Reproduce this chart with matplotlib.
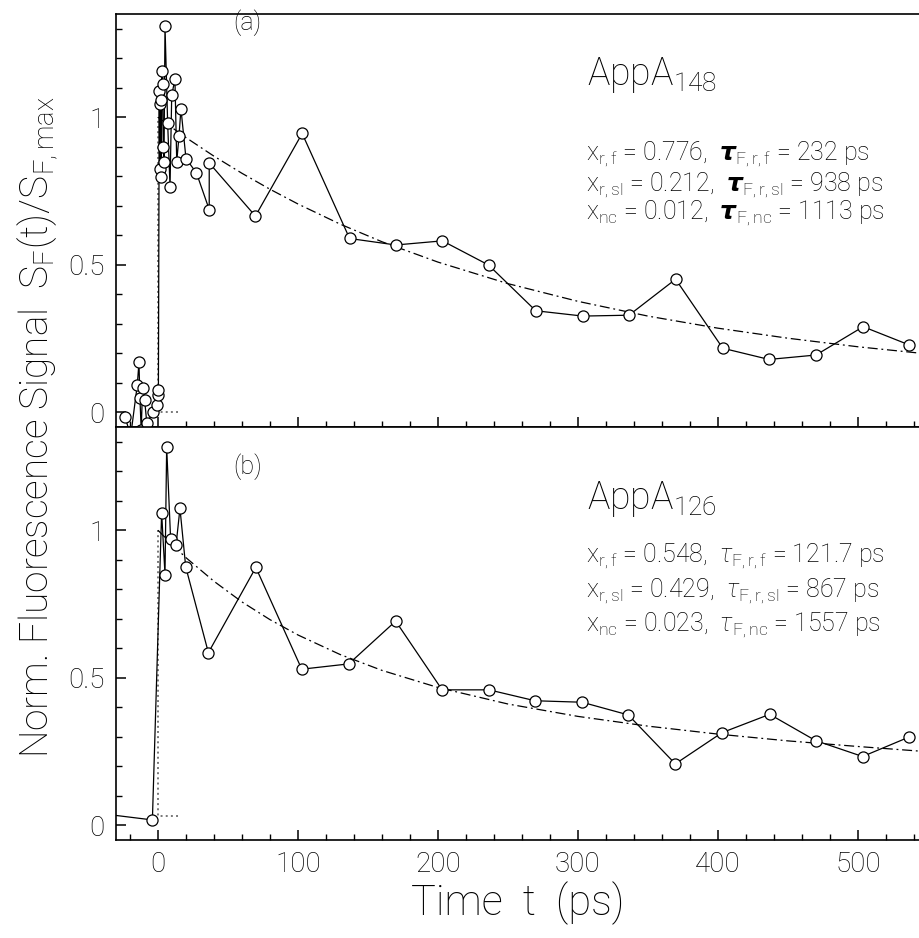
import matplotlib
matplotlib.use("Agg")
import matplotlib.pyplot as plt
import matplotlib.font_manager as fm
from matplotlib.ticker import MultipleLocator, FixedLocator

# ---------------- data ----------------
top_t = [-23.6, -19.5, -14.8, -13.6, -12.9, -12.0, -11.0, -9.5, -8.0, -3.4, -0.5, 0.2, 0.3,
         0.9, 1.2, 1.7, 2.1, 2.4, 2.6, 3.3, 3.8, 4.3, 5.0, 6.9, 8.6, 9.8, 12.1, 13.4, 15.0,
         16.4, 20.0, 27.5, 36.6, 36.6, 69.6, 103.0, 136.9, 169.9, 203.2, 236.2, 269.9,
         303.5, 336.5, 369.8, 403.5, 436.5, 470.1, 503.8, 536.8]
top_v = [-0.015, -0.08, 0.092, 0.169, 0.047, -0.06, 0.083, 0.040, -0.037, 0.002, 0.025, 0.059, 0.075,
         1.089, 0.824, 1.044, 1.058, 0.798, 1.157, 1.114, 0.899, 0.849, 1.311, 0.981, 0.764, 1.074,
         1.129, 0.849, 0.936, 1.029, 0.860, 0.811, 0.687, 0.845, 0.665, 0.945, 0.589, 0.567, 0.581,
         0.499, 0.344, 0.326, 0.329, 0.451, 0.217, 0.179, 0.194, 0.290, 0.228]

bot_t = [-45.0, -4.0, 2.6, 5.0, 6.2, 9.0, 12.9, 15.7, 19.8, 36.0, 69.9, 102.7, 136.3, 169.8,
         203.0, 236.5, 269.4, 303.0, 336.0, 369.6, 403.0, 437.0, 469.8, 503.4, 536.6]
bot_v = [0.042, 0.018, 1.060, 0.850, 1.282, 0.972, 0.950, 1.074, 0.876, 0.585, 0.874, 0.529,
         0.547, 0.692, 0.459, 0.459, 0.422, 0.417, 0.374, 0.208, 0.314, 0.376, 0.287, 0.233, 0.299]

fit_t = [0, 10, 20, 40, 60, 80, 100, 130, 160, 200, 250, 300, 350, 400, 450, 500, 545]
fit_top = [1.000, 0.965, 0.931, 0.868, 0.810, 0.756, 0.706, 0.638, 0.578, 0.509, 0.436,
           0.376, 0.326, 0.285, 0.251, 0.222, 0.200]
fit_bot = [1.000, 0.952, 0.907, 0.827, 0.757, 0.697, 0.645, 0.579, 0.525, 0.467, 0.411,
           0.369, 0.336, 0.309, 0.286, 0.267, 0.251]

# dotted step (onset) segments
step_t = [14, 0, 0]
step_top = [0.0, 0.0, 1.0]
step_bot = [0.033, 0.033, 1.0]

labels_top = ["AppA$_{148}$",
              r"x$_{\mathrm{r,f}}$ = 0.776,  $\boldsymbol{\tau}_{\mathrm{F,r,f}}$ = 232 ps",
              r"x$_{\mathrm{r,sl}}$ = 0.212,  $\boldsymbol{\tau}_{\mathrm{F,r,sl}}$ = 938 ps",
              r"x$_{\mathrm{nc}}$ = 0.012,  $\boldsymbol{\tau}_{\mathrm{F,nc}}$ = 1113 ps"]
labels_bot = ["AppA$_{126}$",
              r"x$_{\mathrm{r,f}}$ = 0.548,  $\tau_{\mathrm{F,r,f}}$ = 121.7 ps",
              r"x$_{\mathrm{r,sl}}$ = 0.429,  $\tau_{\mathrm{F,r,sl}}$ = 867 ps",
              r"x$_{\mathrm{nc}}$ = 0.023,  $\tau_{\mathrm{F,nc}}$ = 1557 ps"]

xticks = [0, 100, 200, 300, 400, 500]
yticks = [0, 0.5, 1]
yticklabels = ["0", "0.5", "1"]

# ---------------- fonts ----------------
WMAP = {'thin': 100, 'extralight': 200, 'ultralight': 200, 'light': 300, 'normal': 400,
        'regular': 400, 'book': 400, 'medium': 500}
avail = {}
for f in fm.fontManager.ttflist:
    w = f.weight
    if isinstance(w, str):
        w = WMAP.get(w.lower(), 400)
    avail.setdefault(f.name, set()).add(int(w))

family, weight = 'DejaVu Sans', 'normal'
for fam in ['Roboto', 'Lato', 'Open Sans', 'Inter', 'Noto Sans']:
    if fam in avail and any(w == 300 for w in avail[fam]):
        family, weight = fam, 'light'
        break
else:
    for fam in ['Liberation Sans', 'Roboto', 'DejaVu Sans']:
        if fam in avail:
            family = fam
            break

plt.rcParams['font.family'] = [family, 'DejaVu Sans']
plt.rcParams['font.weight'] = weight
plt.rcParams['mathtext.fontset'] = 'custom'
plt.rcParams['mathtext.rm'] = f'{family}:{weight}'
plt.rcParams['mathtext.it'] = f'{family}:italic:{weight}'
plt.rcParams['mathtext.bf'] = 'DejaVu Serif:italic:bold'

# ---------------- figure ----------------
W, H = 919, 938
fig = plt.figure(figsize=(W / 100, H / 100), dpi=100)
left = 116 / W
right = 1.002
y_mid = 1 - 427 / H
ax1 = fig.add_axes([left, y_mid, right - left, (427 - 14) / H])
ax2 = fig.add_axes([left, 1 - 840 / H, right - left, (840 - 427) / H])

mk = dict(marker='o', markersize=8, markerfacecolor='white', markeredgecolor='black',
          markeredgewidth=0.9, color='black', linewidth=0.9)

for ax, t, v, ft, fv, sv, labs, ab, abpos, lpos in [
        (ax1, top_t, top_v, fit_t, fit_top, step_top, labels_top, '(a)', 0.978,
         [0.852, 0.659, 0.586, 0.516]),
        (ax2, bot_t, bot_v, fit_t, fit_bot, step_bot, labels_bot, '(b)', 0.903,
         [0.825, 0.686, 0.603, 0.519])]:
    ax.plot(step_t, sv, linestyle=':', color='#777777', linewidth=1.4, zorder=1)
    ax.plot(ft, fv, linestyle=(0, (8, 3, 1.5, 3)), color='black', linewidth=0.9, zorder=2)
    ax.plot(t, v, zorder=3, **mk)
    ax.set_xlim(-30, 545)
    ax.set_ylim(-0.05, 1.35)
    ax.xaxis.set_major_locator(FixedLocator(xticks))
    ax.xaxis.set_minor_locator(MultipleLocator(20))
    ax.yaxis.set_major_locator(FixedLocator(yticks))
    ax.yaxis.set_minor_locator(MultipleLocator(0.1))
    ax.set_yticklabels(yticklabels)
    ax.tick_params(which='major', direction='in', length=7, width=1.1, labelsize=20,
                   labelcolor='black', top=False, right=False, pad=8)
    ax.tick_params(which='minor', direction='in', length=4, width=1.0, top=False, right=False)
    for s in ax.spines.values():
        s.set_linewidth(1.2)
    ax.text(0.163, abpos, ab, transform=ax.transAxes, fontsize=18, ha='center', va='center')
    ax.text(0.585, lpos[0], labs[0], transform=ax.transAxes, fontsize=27, ha='left', va='center')
    for i in range(1, 4):
        ax.text(0.584, lpos[i], labs[i], transform=ax.transAxes, fontsize=18,
                ha='left', va='center')

ax1.tick_params(labelbottom=False)
ax2.set_xticklabels([str(x) for x in xticks])
fig.text((116 + 919) / 2 / W, 1 - 903 / H, "Time  t  (ps)", fontsize=30, ha='center', va='center')
fig.text(38 / W, 1 - 427 / H, r"Norm. Fluorescence Signal  S$_{\mathrm{F}}$(t)/S$_{\mathrm{F,max}}$",
         fontsize=28, rotation=90, ha='center', va='center')

fig.savefig("out.png", dpi=100)
